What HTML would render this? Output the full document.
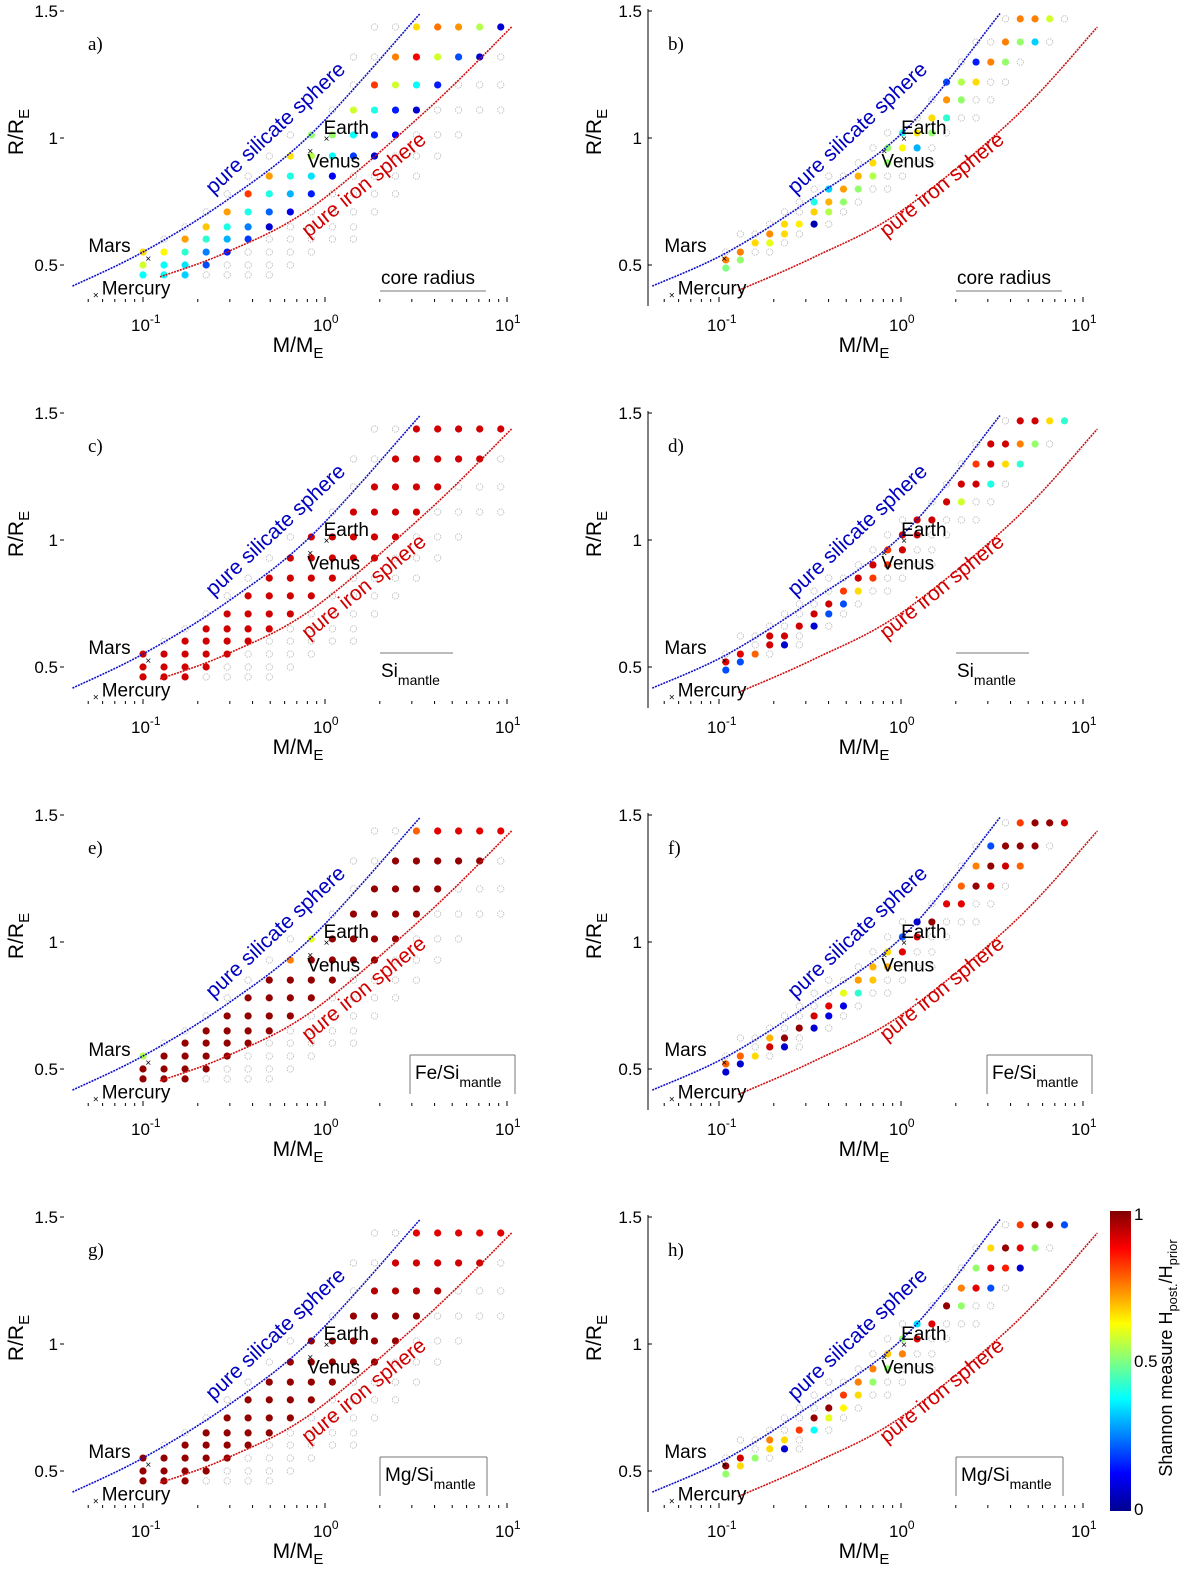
<!DOCTYPE html>
<html><head><meta charset="utf-8"><title>Shannon measure panels</title>
<style>
html,body{margin:0;padding:0;background:#fff;}
svg text{font-family:"Liberation Sans",sans-serif;}
</style></head>
<body>
<svg id="fig" xmlns="http://www.w3.org/2000/svg" width="1200" height="1581" viewBox="0 0 1200 1581">
<defs>
<linearGradient id="jetgrad" x1="0" y1="1" x2="0" y2="0">
<stop offset="0" stop-color="#00008f"/><stop offset="0.125" stop-color="#0000ff"/><stop offset="0.375" stop-color="#00ffff"/><stop offset="0.625" stop-color="#ffff00"/><stop offset="0.875" stop-color="#ff0000"/><stop offset="1" stop-color="#800000"/>
</linearGradient>
</defs>
<g id="root"></g>
<g>
<rect x="1110" y="1211" width="21" height="300" fill="url(#jetgrad)"/>
<text x="1134" y="1220" font-size="17">1</text>
<text x="1134" y="1367" font-size="17">0.5</text>
<text x="1134" y="1515" font-size="17">0</text>
<text transform="translate(1172,1358) rotate(-90)" text-anchor="middle" font-size="18">Shannon measure H<tspan font-size="13" dy="5">post.</tspan><tspan dy="-5">/H</tspan><tspan font-size="13" dy="5">prior</tspan></text>
</g>
</svg>
<script>
// ---- data ----
const leftMasses = [0.1,0.1305,0.1703,0.2223,0.290,0.378,0.494,0.645,0.841,1.098,1.433,1.870,2.44,3.18,4.16,5.42,7.08,9.24];
const leftRadii = [0.461,0.500,0.551,0.602,0.650,0.709,0.780,0.850,0.929,1.012,1.110,1.209,1.319,1.437];
const rightMasses = [0.109,0.131,0.158,0.190,0.229,0.276,0.333,0.401,0.483,0.582,0.701,0.845,1.018,1.226,1.478,1.780,2.145,2.584,3.114,3.751,4.52,5.45,6.56,7.91];
const rightRadii = [0.488,0.520,0.551,0.587,0.622,0.661,0.709,0.748,0.799,0.850,0.902,0.961,1.020,1.079,1.150,1.220,1.299,1.378,1.469];

const leftSilM = [0.041,0.1,0.29,0.85,3.33];
const leftSilR = [0.417,0.551,0.756,1.02,1.49];
const leftIronM = [0.124,0.29,0.85,3.63,10.6];
const leftIronR = [0.453,0.551,0.728,1.11,1.437];
const rightSilM = [0.043,0.109,0.316,1.05,3.5];
const rightSilR = [0.417,0.547,0.756,1.03,1.49];
const rightIronM = [0.128,0.33,1.0,4.2,12.0];
const rightIronR = [0.40,0.53,0.712,1.08,1.437];

const planetNames = ["Mercury","Venus","Earth","Mars"];
const leftPlanetM = [0.055,0.83,1.02,0.107];
const leftPlanetR = [0.383,0.95,1.0,0.527];
const rightPlanetM = [0.055,0.81,1.04,0.107];
const rightPlanetR = [0.383,0.95,1.0,0.527];

// rows: [rowIndex, startCol, values] ; null = empty grid point
const rowsA = [[0,0,[0.38,0.38,0.33,null,null,null,null]],[1,0,[0.58,0.38,0.35,0.2,null,null,null,null]],[2,0,[0.66,0.63,0.42,0.25,0.15,null,null,null,null]],[3,1,[null,0.72,0.42,0.3,0.18,null,null,null,null,null]],[4,2,[null,0.68,0.4,0.25,0.08,null,null,null,null]],[5,3,[null,0.72,0.4,0.22,0.1,null,null,null,null]],[6,4,[null,0.82,0.4,0.3,0.15,null,null,null,null]],[7,5,[null,0.72,0.4,0.35,0.12,null,null,null,null]],[8,6,[null,0.65,0.55,0.38,0.18,0.08,null,null,null]],[9,7,[null,0.52,0.52,0.38,0.15,0.12,null,null,null]],[10,9,[null,0.58,0.4,0.15,0.08,null,null,null,null]],[11,10,[null,0.82,0.58,0.38,0.15,null,null,null]],[12,10,[null,null,0.75,0.88,0.58,0.2,0.08,null]],[13,11,[null,null,0.66,0.76,0.73,0.55,0.08]]];
const rowsC = [[0,0,[0.92,0.92,0.92,null,null,null,null]],[1,0,[0.92,0.92,0.92,0.92,null,null,null,null]],[2,0,[0.92,0.92,0.92,0.92,0.92,null,null,null,null]],[3,1,[null,0.92,0.92,0.92,0.92,null,null,null,null,null]],[4,2,[null,0.92,0.92,0.92,0.92,null,null,null,null]],[5,3,[null,0.92,0.92,0.92,0.92,null,null,null,null]],[6,4,[null,0.92,0.92,0.92,0.92,null,null,null,null]],[7,5,[null,0.92,0.92,0.92,0.92,null,null,null,null]],[8,6,[null,0.92,0.92,0.92,0.92,0.92,null,null,null]],[9,7,[null,0.92,0.92,0.92,0.92,0.92,null,null,null]],[10,9,[null,0.92,0.92,0.92,0.92,null,null,null,null]],[11,10,[null,0.92,0.92,0.92,0.92,null,null,null]],[12,10,[null,null,0.92,0.92,0.92,0.92,0.92,null]],[13,11,[null,null,0.92,0.92,0.92,0.92,0.92]]];
const rowsE = [[0,0,[0.98,0.98,0.98,null,null,null,null]],[1,0,[0.98,0.98,0.98,0.98,null,null,null,null]],[2,0,[0.55,0.98,0.98,0.98,0.98,null,null,null,null]],[3,1,[null,0.98,0.98,0.98,0.98,null,null,null,null,null]],[4,2,[null,0.98,0.98,0.98,0.98,null,null,null,null]],[5,3,[null,0.98,0.98,0.98,0.98,null,null,null,null]],[6,4,[null,0.98,0.98,0.98,0.98,null,null,null,null]],[7,5,[null,0.98,0.98,0.98,0.98,null,null,null,null]],[8,6,[null,0.75,0.98,0.98,0.98,0.98,null,null,null]],[9,7,[null,0.6,0.98,0.98,0.98,0.98,null,null,null]],[10,9,[null,0.98,0.98,0.98,0.98,null,null,null,null]],[11,10,[null,0.98,0.98,0.98,0.98,null,null,null]],[12,10,[null,null,0.98,0.98,0.98,0.98,0.98,null]],[13,11,[null,null,0.78,0.9,0.9,0.9,0.9]]];
const rowsG = [[0,0,[0.98,0.98,0.98,null,null,null,null]],[1,0,[0.98,0.98,0.98,0.98,null,null,null,null]],[2,0,[0.98,0.98,0.98,0.98,0.98,null,null,null,null]],[3,1,[null,0.98,0.98,0.98,0.98,null,null,null,null,null]],[4,2,[null,0.98,0.98,0.98,0.98,null,null,null,null]],[5,3,[null,0.98,0.98,0.98,0.98,null,null,null,null]],[6,4,[null,0.98,0.98,0.98,0.98,null,null,null,null]],[7,5,[null,0.98,0.98,0.98,0.98,null,null,null,null]],[8,6,[null,0.98,0.98,0.98,0.98,0.98,null,null,null]],[9,7,[null,0.98,0.98,0.98,0.98,0.98,null,null,null]],[10,9,[null,0.98,0.98,0.98,0.98,null,null,null,null]],[11,10,[null,0.95,0.95,0.95,0.95,null,null,null]],[12,10,[null,null,0.92,0.92,0.92,0.92,0.92,null]],[13,11,[null,null,0.9,0.9,0.9,0.9,0.9]]];

const rowsB = [[0,0,[0.5]],[1,0,[0.75,0.52]],[2,0,[null,0.75,null,null]],[3,2,[0.66,0.6,null]],[4,1,[null,null,0.74,0.66,null]],[5,3,[null,0.66,0.64,0.05,null]],[6,4,[null,null,0.67,0.55,null]],[7,5,[null,0.4,0.7,0.52,null]],[8,6,[null,0.33,0.72,0.52,null,null]],[9,7,[null,null,0.7,0.55,null,null]],[10,9,[null,0.66,0.52,null,null,null]],[11,10,[null,0.52,0.63,0.3,null]],[12,11,[null,0.4,0.65,0.52,null]],[13,13,[null,0.66,0.42,null,null]],[14,14,[null,0.73,0.52,null,null]],[15,15,[0.2,0.55,0.66,null,null]],[16,16,[null,0.15,0.75,0.52,null]],[17,17,[null,null,0.75,0.52,0.33,null]],[18,19,[null,0.75,0.75,0.58,null]]];
const rowsD = [[0,0,[0.2]],[1,0,[0.9,0.2]],[2,0,[null,0.9,0.78,null]],[3,2,[null,0.92,0.08,null]],[4,1,[null,null,0.92,0.92,null]],[5,3,[null,null,0.92,0.08,null]],[6,4,[null,null,0.92,0.2,null]],[7,5,[null,null,0.92,0.2,null]],[8,6,[null,null,0.82,0.66,null,null]],[9,7,[null,null,0.92,0.82,null,null]],[10,9,[null,0.92,0.82,null,null,null]],[11,10,[null,0.82,0.92,null,null]],[12,11,[null,0.92,0.92,null,null]],[13,12,[null,0.92,0.92,null,null,null]],[14,14,[null,0.92,0.58,null,null]],[15,15,[null,0.92,0.92,0.4,null]],[16,16,[null,0.82,0.92,0.66,0.42]],[17,17,[null,0.92,0.92,0.75,0.52,null]],[18,19,[null,0.92,0.92,0.66,0.42]]];
const rowsF = [[0,0,[0.08]],[1,0,[0.78,0.08]],[2,0,[null,0.78,0.66,null]],[3,2,[null,0.92,0.08,null]],[4,1,[null,null,0.7,0.98,null]],[5,3,[null,null,0.98,0.08,null]],[6,4,[null,null,0.92,0.1,null]],[7,5,[null,null,0.9,0.1,null]],[8,6,[null,null,0.6,0.42,null,null]],[9,7,[null,null,0.72,0.68,null,null]],[10,9,[null,0.7,0.7,null,null,null]],[11,10,[null,0.66,0.9,null,null]],[12,11,[null,0.22,0.9,null,null]],[13,12,[null,0.08,0.98,null,null,null]],[14,14,[null,0.9,0.9,null,null]],[15,15,[null,0.78,0.98,0.9,null]],[16,16,[null,0.75,0.98,0.92,0.78]],[17,17,[null,0.2,0.98,0.98,0.98,null]],[18,19,[null,0.82,0.98,0.98,0.92]]];
const rowsH = [[0,0,[0.52]],[1,0,[0.98,0.66]],[2,0,[null,0.92,0.52,null]],[3,2,[null,0.66,0.08,null]],[4,1,[null,null,0.75,0.66,null]],[5,3,[null,null,0.82,0.38,null]],[6,4,[null,null,0.98,0.6,null]],[7,5,[null,null,0.98,0.63,null]],[8,6,[null,null,0.82,0.66,null,null]],[9,7,[null,null,0.75,0.52,null,null]],[10,9,[null,0.75,0.52,null,null,null]],[11,10,[null,0.68,0.75,null,null]],[12,11,[null,0.52,0.9,null,null]],[13,12,[null,0.35,0.9,null,null,null]],[14,14,[null,0.98,0.52,null,null]],[15,15,[null,0.75,0.9,0.2,null]],[16,16,[null,0.52,0.9,0.85,0.08]],[17,17,[null,0.66,0.98,0.9,0.52,null]],[18,19,[null,0.82,0.98,0.98,0.2]]];

const panelLetters = ["a)","b)","c)","d)","e)","f)","g)","h)"];
const panelLegends = ["core radius","core radius","Si","Si","Fe/Si","Fe/Si","Mg/Si","Mg/Si"];
const yTickLabels = ["0.5","1","1.5"];
const yTickValues = [0.5,1,1.5];

// ---- drawing ----
const NS = "http://www.w3.org/2000/svg";
const root = document.getElementById("root");
function mk(tag, attrs, parent){
  const e = document.createElementNS(NS, tag);
  for (const k in attrs) e.setAttribute(k, attrs[k]);
  (parent||root).appendChild(e);
  return e;
}
function clamp(v){return Math.max(0,Math.min(1,v));}
function jet(v){
  const r = clamp(1.5-Math.abs(4*v-3)), g = clamp(1.5-Math.abs(4*v-2)), b = clamp(1.5-Math.abs(4*v-1));
  return "rgb("+Math.round(r*255)+","+Math.round(g*255)+","+Math.round(b*255)+")";
}
function smoothPath(pts){
  let d = "M"+pts[0][0].toFixed(1)+","+pts[0][1].toFixed(1);
  for (let i=0;i<pts.length-1;i++){
    const p0=pts[Math.max(0,i-1)], p1=pts[i], p2=pts[i+1], p3=pts[Math.min(pts.length-1,i+2)];
    const c1=[p1[0]+(p2[0]-p0[0])/6, p1[1]+(p2[1]-p0[1])/6];
    const c2=[p2[0]-(p3[0]-p1[0])/6, p2[1]-(p3[1]-p1[1])/6];
    d += " C"+c1[0].toFixed(1)+","+c1[1].toFixed(1)+" "+c2[0].toFixed(1)+","+c2[1].toFixed(1)+" "+p2[0].toFixed(1)+","+p2[1].toFixed(1);
  }
  return d;
}

const panelRows = [rowsA,rowsB,rowsC,rowsD,rowsE,rowsF,rowsG,rowsH];
const offsets = [0,402,804,1206];

for (let p=0;p<8;p++){
  const right = p%2===1;
  const off = offsets[Math.floor(p/2)];
  const x0 = right ? 719 : 143;
  const xAxisL = right ? 648 : 68, xAxisR = right ? 1096 : 516;
  const xs = m => x0 + 182*(Math.log10(m)+1);
  const ys = r => off + 138 - 254*(r-1);
  const masses = right ? rightMasses : leftMasses;
  const radii = right ? rightRadii : leftRadii;
  const g = mk("g",{});
  
  

  if (right){
    const yl = mk("line",{x1:xAxisL,y1:off+9,x2:xAxisL,y2:off+306,stroke:"#000","stroke-width":1},g);
    
    
  }
  for (let i=0;i<yTickValues.length;i++){
    const y = ys(yTickValues[i]);
    const t = mk("text",{x:xAxisL-(right?6:10),y:y+6,"font-size":17,"text-anchor":"end"},g);
    t.textContent = yTickLabels[i];
    
    
    const tk = mk("line",{x1:xAxisL-(right?0:8),y1:y,x2:xAxisL+(right?4:-4),y2:y,stroke:"#000","stroke-width":1},g);
    
    
  }
  const decades=[0.01,0.1,1,10];
  for (const d of decades){ for (let k=1;k<10;k++){ const m=d*k; const x=xs(m);
    if (x<xAxisL+3||x>xAxisR) continue;
    const tk = mk("line",{x1:x,y1:off+302,x2:x,y2:off+(k===1?297:299),stroke:"#000","stroke-width":1},g);
    
    
  }}
  const exps=["-1","0","1"], mvals=[0.1,1,10];
  for (let i=0;i<3;i++){
    const t = mk("text",{x:xs(mvals[i])-12,y:off+331,"font-size":17},g);
    
    
    t.innerHTML = '10<tspan font-size="12" dy="-8">'+exps[i]+'</tspan>';
  }
  const xt = mk("text",{x:right?864:298,y:off+352,"font-size":21,"text-anchor":"middle"},g);
  xt.innerHTML = 'M/M<tspan font-size="15" dy="6">E</tspan>';
  
  
  const yt = mk("text",{transform:"translate("+(right?601:23)+","+(off+132)+") rotate(-90)","font-size":21,"text-anchor":"middle"},g);
  yt.innerHTML = 'R/R<tspan font-size="15" dy="6">E</tspan>';
  
  

  const rows = panelRows[p];
  for (const row of rows){
    const ri=row[0], sc=row[1], vals=row[2];
    for (let j=0;j<vals.length;j++){
      const cx = xs(masses[sc+j]), cy = ys(radii[ri]);
      const v = vals[j];
      let c;
      if (v===null){
        c = mk("circle",{cx:cx,cy:cy,r:3.2,fill:"none",stroke:"#b5b5b5","stroke-width":0.8,"stroke-dasharray":"1.5,1"},g);
        
      } else {
        c = mk("circle",{cx:cx,cy:cy,r:3.6,fill:jet(v)},g);
        
      }
      
    }
  }

  const sm = right?rightSilM:leftSilM, sr = right?rightSilR:leftSilR;
  const im = right?rightIronM:leftIronM, ir = right?rightIronR:leftIronR;
  const sp = mk("path",{d:smoothPath(sm.map((m,i)=>[xs(m),ys(sr[i])])),fill:"none",stroke:"#1010c8","stroke-width":1.6,"stroke-dasharray":"2,1"},g);
  
  
  const ip = mk("path",{d:smoothPath(im.map((m,i)=>[xs(m),ys(ir[i])])),fill:"none",stroke:"#d01010","stroke-width":1.6,"stroke-dasharray":"2,1"},g);
  
  

  const sx = right?862:280, ix = right?946:368;
  const st = mk("text",{transform:"translate("+sx+","+(off+133)+") rotate(-43)","font-size":21,"text-anchor":"middle",fill:"#0000c0"},g);
  st.textContent = "pure silicate sphere";
  
  
  const it = mk("text",{transform:"translate("+ix+","+(off+190)+") rotate(-39)","font-size":21,"text-anchor":"middle",fill:"#d00000"},g);
  it.textContent = "pure iron sphere";
  
  

  const pm = right?rightPlanetM:leftPlanetM, pr = right?rightPlanetR:leftPlanetR;
  const lblDx = [6,-3,-3,-60], lblDy = [0,17,-4,-6];
  for (let i=0;i<4;i++){
    const px = xs(pm[i]), py = ys(pr[i]);
    const mkr = mk("text",{x:px,y:py+4,"font-size":10,"text-anchor":"middle"},g);
    mkr.textContent = "×";
    
    
    const lb = mk("text",{x:px+lblDx[i],y:py+lblDy[i],"font-size":19},g);
    lb.textContent = planetNames[i];
    
    
  }

  const pl = mk("text",{x:right?668:88,y:off+50,"font-size":19},g);
  pl.setAttribute("style","font-family:'Liberation Serif',serif");
  pl.textContent = panelLetters[p];
  
  

  const row = Math.floor(p/2);
  const lx = right ? [957,957,988,957][row] : [381,381,411,381][row];
  const lg = mk("g",{},g);
  
  
  const lt = mk("text",{x:lx+(row>=2?4:0),y:off+(row===0?284:275),"font-size":19},lg);
  if (row===0){ lt.textContent = panelLegends[p];
    mk("line",{x1:lx-1,y1:off+291,x2:lx+105,y2:off+291,stroke:"#777","stroke-width":1},lg);
  } else {
    lt.innerHTML = panelLegends[p]+'<tspan font-size="14" dy="8">mantle</tspan>';
    const w = row===1?72:(row===2?104:106);
    mk("line",{x1:lx-1,y1:off+251,x2:lx+w,y2:off+251,stroke:"#777","stroke-width":1},lg);
    if (row>=2){
      mk("line",{x1:lx-1,y1:off+251,x2:lx-1,y2:off+290,stroke:"#777","stroke-width":1},lg);
      mk("line",{x1:lx+w,y1:off+251,x2:lx+w,y2:off+290,stroke:"#777","stroke-width":1},lg);
    }
  }
}
</script>
</body></html>
